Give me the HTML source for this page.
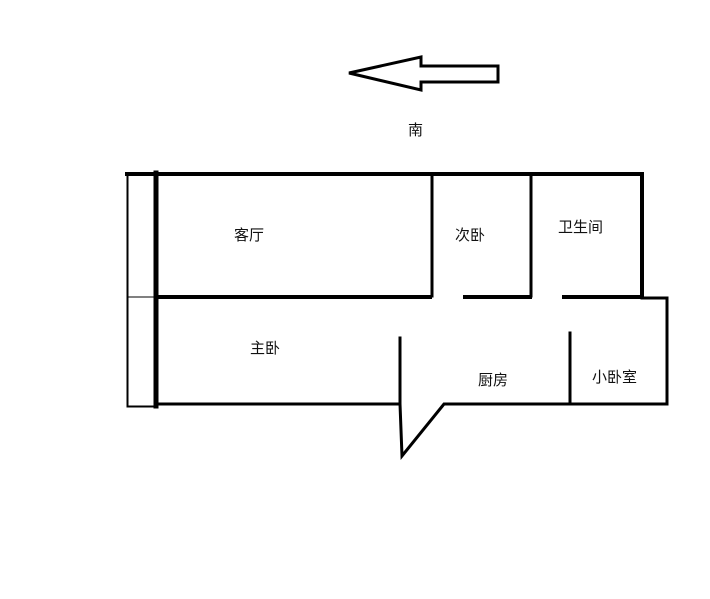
<!DOCTYPE html>
<html><head><meta charset="utf-8"><style>
body{margin:0;background:#fff}
svg{display:block}
text{font-family:"Liberation Sans","Noto Sans CJK SC",sans-serif;font-size:15px;fill:#111}
</style></head><body>
<svg width="710" height="599" viewBox="0 0 710 599" xmlns="http://www.w3.org/2000/svg">
<polygon points="349,73 421,57 421,66 498,66 498,82 421,82 421,90" fill="none" stroke="#000" stroke-width="3"/>
<text x="408" y="135">南</text>
<g stroke="#000" fill="none" stroke-linecap="square">
<rect x="127.5" y="173.5" width="28" height="233" stroke-width="2"/>
<line x1="127" y1="297" x2="157" y2="297" stroke-width="1"/>
<line x1="156" y1="173" x2="156" y2="406" stroke-width="5"/>
<line x1="127" y1="174" x2="642" y2="174" stroke-width="4"/>
<line x1="642" y1="174" x2="642" y2="297" stroke-width="4"/>
<line x1="157" y1="297" x2="430" y2="297" stroke-width="4"/>
<line x1="465" y1="297" x2="530" y2="297" stroke-width="4"/>
<line x1="564" y1="297" x2="642" y2="297" stroke-width="4"/>
<line x1="432" y1="174" x2="432" y2="296" stroke-width="3"/>
<line x1="531" y1="174" x2="531" y2="296" stroke-width="3"/>
<polyline points="642,298 667,298 667,404 444,404 402,456 400,404 160,404" stroke-width="3" stroke-linejoin="miter"/>
<line x1="400" y1="338" x2="400" y2="404" stroke-width="3"/>
<line x1="570" y1="333" x2="570" y2="404" stroke-width="3"/>
</g>
<text x="234" y="240">客厅</text>
<text x="455" y="240">次卧</text>
<text x="558" y="232">卫生间</text>
<text x="250" y="353">主卧</text>
<text x="478" y="385">厨房</text>
<text x="592" y="382">小卧室</text>
</svg>
</body></html>
